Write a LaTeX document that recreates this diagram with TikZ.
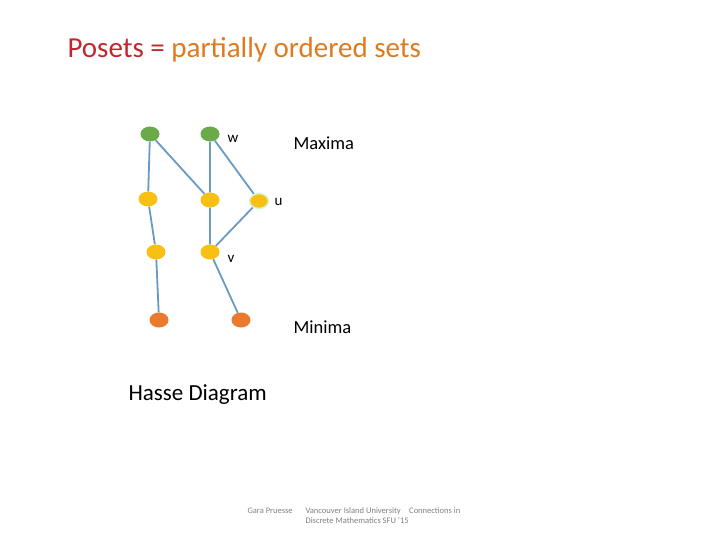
\documentclass[tikz,border=0pt]{standalone}
\usepackage{fontspec}
\setmainfont{Carlito}
\usetikzlibrary{shapes.geometric}
\definecolor{eblue}{HTML}{6A9AC4}
\definecolor{ggreen}{HTML}{6AAA48}
\definecolor{yyellow}{HTML}{F8C012}
\definecolor{oorange}{HTML}{EC7A2C}
\definecolor{tred}{HTML}{C0282E}
\definecolor{torange}{HTML}{E07A1E}
\begin{document}
\begin{tikzpicture}[x=1pt,y=-1pt,
  dot/.style={ellipse,minimum width=19pt,minimum height=15pt,inner sep=0pt},
  gdot/.style={dot,fill=ggreen},
  ydot/.style={dot,fill=yyellow},
  odot/.style={dot,fill=oorange},
  edge/.style={draw=eblue,line width=1.8pt},
  lab/.style={font=\fontsize{15}{17}\selectfont,anchor=west}]
\useasboundingbox (0,0) rectangle (720,540);
\node[anchor=west,font=\fontsize{29}{32}\selectfont] (t) at (64,50) {\textcolor{tred}{Posets =} \textcolor{torange}{partially ordered sets}};
\node[gdot] (a1) at (150,134) {};
\node[gdot] (a2) at (210,134) {};
\node[ydot] (b1) at (148,199) {};
\node[ydot] (b2) at (210,200) {};
\node[ydot,draw=gray!30!green!20,line width=1.5pt] (b3) at (259,201) {};
\node[ydot] (c1) at (156,252) {};
\node[ydot] (c2) at (210,252) {};
\node[odot] (d1) at (159,320) {};
\node[odot] (d2) at (241,320) {};
\draw[edge] (a1) -- (b1) (a1) -- (b2) (a2) -- (b2) (a2) -- (b3)
  (b1) -- (c1) (b2) -- (c2) (b3) -- (c2) (c1) -- (d1) (c2) -- (d2);
\node[lab] (w) at (224,139) {w};
\node[lab] (u) at (271,202) {u};
\node[lab] (v) at (224,259) {v};
\node[lab,font=\fontsize{18.5}{20}\selectfont] (mx) at (290,143) {Maxima};
\node[lab,font=\fontsize{18.5}{20}\selectfont] (mn) at (290,327) {Minima};
\node[lab,font=\fontsize{23}{26}\selectfont] (h) at (125,395) {Hasse Diagram};
\node[anchor=west,font=\fontsize{8.5}{9}\selectfont,text=gray] (f1) at (244,511) {Gara Pruesse};
\node[anchor=north west,align=left,font=\fontsize{8.5}{10}\selectfont,text=gray] (f2) at (302,504) {Vancouver Island University\quad Connections in\\Discrete Mathematics SFU '15};
\end{tikzpicture}
\end{document}
